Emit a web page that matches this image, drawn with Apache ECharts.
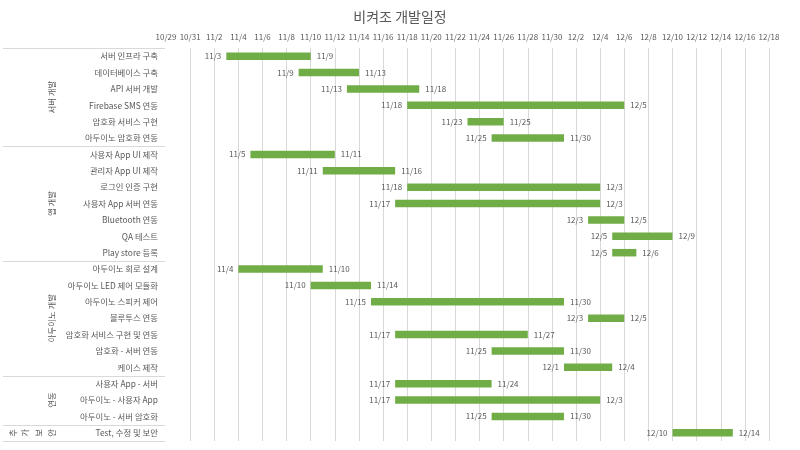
<!DOCTYPE html>
<html>
<head>
<meta charset="utf-8">
<script src="https://cdn.jsdelivr.net/npm/echarts@6/dist/echarts.min.js"></script>
<style>
  html, body { margin: 0; padding: 0; background: #fff; }
  #chart { width: 800px; height: 450px; }
</style>
</head>
<body>
<div id="chart"></div>
<script>
const categories = [
  '서버 인프라 구축', '데이터베이스 구축', 'API 서버 개발', 'Firebase SMS 연동', '암호화 서비스 구현', '아두이노 암호화 연동',
  '사용자 App UI 제작', '관리자 App UI 제작', '로그인 인증 구현', '사용자 App 서버 연동', 'Bluetooth 연동', 'QA 테스트', 'Play store 등록',
  '아두이노 회로 설계', '아두이노 LED 제어 모듈화', '아두이노 스피커 제어', '블루투스 연동', '암호화 서비스 구현 및 연동', '암호화 - 서버 연동', '케이스 제작',
  '사용자 App - 서버', '아두이노 - 사용자 App', '아두이노 - 서버 암호화',
  'Test, 수정 및 보안'
];
const startDates = [
  '11/3', '11/9', '11/13', '11/18', '11/23', '11/25',
  '11/5', '11/11', '11/18', '11/17', '12/3', '12/5', '12/5',
  '11/4', '11/10', '11/15', '12/3', '11/17', '11/25', '12/1',
  '11/17', '11/17', '11/25',
  '12/10'
];
const endDates = [
  '11/9', '11/13', '11/18', '12/5', '11/25', '11/30',
  '11/11', '11/16', '12/3', '12/3', '12/5', '12/9', '12/6',
  '11/10', '11/14', '11/30', '12/5', '11/27', '11/30', '12/4',
  '11/24', '12/3', '11/30',
  '12/14'
];
const groupNames = ['서버 개발', '앱 개발', '아두이노 개발', '연동', '추가보안'];
const groupSizes = [6, 7, 7, 3, 1];
const axisStart = '10/29';
const axisEnd = '12/18';
const tickStep = 2;

const BASE = Date.UTC(2023, 9, 29);
function dayIndex(s) {
  const [m, d] = s.split('/').map(Number);
  return Math.round((Date.UTC(2023, m - 1, d) - BASE) / 86400000);
}
function dayLabel(n) {
  const dt = new Date(BASE + n * 86400000);
  return (dt.getUTCMonth() + 1) + '/' + dt.getUTCDate();
}

const offsets = startDates.map(dayIndex);
const durations = endDates.map((e, i) => dayIndex(e) - offsets[i] + 1);

const FONT = "'Noto Sans CJK KR', 'Noto Sans', sans-serif";
const TXT = '#595959';

const chart = echarts.init(document.getElementById('chart'));
chart.setOption({
  animation: false,
  title: {
    text: '비켜조 개발일정',
    left: 'center',
    top: 5,
    textStyle: { fontSize: 14, fontWeight: 'normal', color: TXT, fontFamily: FONT }
  },
  grid: { left: 166, right: 31, top: 48, bottom: 9, containLabel: false },
  xAxis: {
    type: 'value',
    position: 'top',
    min: dayIndex(axisStart),
    max: dayIndex(axisEnd),
    interval: tickStep,
    axisLine: { show: false },
    axisTick: { show: false },
    splitLine: { show: true, showMinLine: false, lineStyle: { color: '#d9d9d9', width: 1 } },
    axisLabel: {
      color: TXT, fontSize: 8, fontFamily: FONT, margin: 7, interval: 0,
      formatter: v => dayLabel(v)
    }
  },
  yAxis: {
    type: 'category',
    inverse: true,
    data: categories,
    axisLine: { show: false },
    axisTick: { show: false },
    splitLine: { show: false },
    axisLabel: { color: TXT, fontSize: 8.4, fontFamily: FONT, margin: 8, interval: 0 }
  },
  series: [
    {
      type: 'bar',
      stack: 'g',
      data: offsets,
      barWidth: 7.5,
      itemStyle: { color: 'rgba(0,0,0,0)' },
      silent: true,
      label: {
        show: true,
        position: 'insideRight',
        distance: 5,
        color: TXT, fontSize: 8, fontFamily: FONT,
        formatter: p => startDates[p.dataIndex]
      }
    },
    {
      type: 'bar',
      stack: 'g',
      data: durations,
      barWidth: 7.5,
      itemStyle: { color: '#70AD47' },
      label: {
        show: true,
        position: 'right',
        distance: 6,
        color: TXT, fontSize: 8, fontFamily: FONT,
        formatter: p => endDates[p.dataIndex]
      }
    }
  ]
});

// group labels and separators in the category area
const firstY = chart.convertToPixel({ yAxisIndex: 0 }, 0);
const secondY = chart.convertToPixel({ yAxisIndex: 0 }, 1);
const band = secondY - firstY;
const areaTop = firstY - band / 2;
const elements = [];
let idx = 0;
const lineY = v => Math.round(v) + 0.5;
elements.push({ type: 'line', shape: { x1: 3, y1: lineY(areaTop), x2: 165, y2: lineY(areaTop) }, style: { stroke: '#d9d9d9', lineWidth: 1 }, silent: true });
groupNames.forEach((name, g) => {
  const gTop = areaTop + idx * band;
  const gBot = gTop + groupSizes[g] * band;
  const cy = (gTop + gBot) / 2;
  if (groupSizes[g] > 1) {
    elements.push({
      type: 'text', x: 52, y: cy, rotation: Math.PI / 2,
      style: { text: name, fill: TXT, fontSize: 8.4, fontFamily: FONT, align: 'center', verticalAlign: 'middle' },
      silent: true
    });
  } else {
    const chars = name.split('');
    const xs = [13, 25, 39, 52];
    chars.forEach((c, k) => {
      elements.push({
        type: 'text', x: xs[k] !== undefined ? xs[k] : 13 + k * 13, y: cy, rotation: Math.PI / 2,
        style: { text: c, fill: TXT, fontSize: 8.4, fontFamily: FONT, align: 'center', verticalAlign: 'middle' },
        silent: true
      });
    });
  }
  elements.push({ type: 'line', shape: { x1: 3, y1: lineY(gBot), x2: 165, y2: lineY(gBot) }, style: { stroke: '#d9d9d9', lineWidth: 1 }, silent: true });
  idx += groupSizes[g];
});
chart.setOption({ graphic: { elements } });
</script>
</body>
</html>
